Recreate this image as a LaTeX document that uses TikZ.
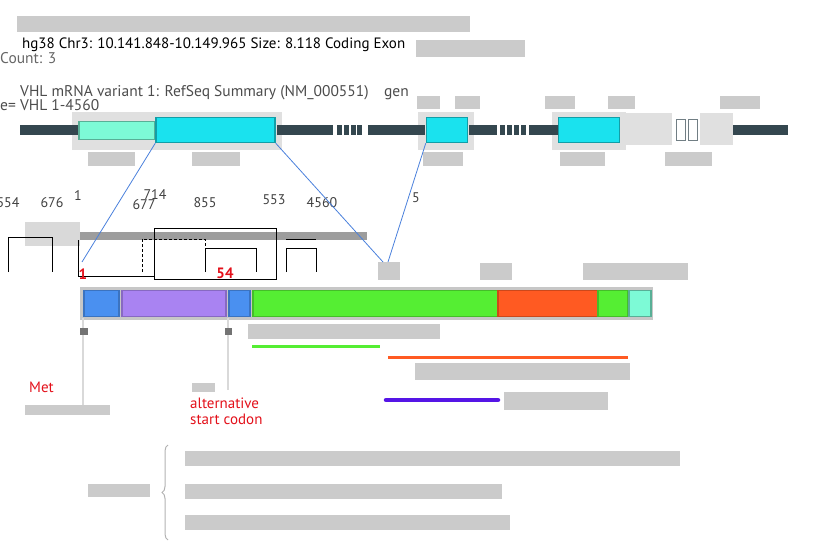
\documentclass[tikz,border=0pt]{standalone}
\usepackage{fontspec}
\setmainfont{PT Sans}
\usetikzlibrary{decorations.pathreplacing,positioning}
\tikzset{decoration={brace,amplitude=6pt}}
\definecolor{trackgrey}{HTML}{34474F}
\definecolor{exoncyan}{HTML}{1AE2EE}
\definecolor{utraqua}{HTML}{7DFAD6}
\definecolor{protblue}{HTML}{4A90F0}
\definecolor{protpurple}{HTML}{A983F2}
\definecolor{protgreen}{HTML}{55EE33}
\definecolor{protorange}{HTML}{FF5A22}
\definecolor{linkblue}{HTML}{4A80DC}
\definecolor{labred}{HTML}{E3101A}
\definecolor{signindigo}{HTML}{5515E6}

\begin{document}
\begin{tikzpicture}[x=1pt,y=-1pt]

\tikzstyle{blur}=[fill=black!45,opacity=0.45]
\tikzstyle{halo}=[fill=black!12]
\tikzstyle{track}=[fill=trackgrey]
\tikzstyle{exon}=[draw=exoncyan!70!black,fill=exoncyan,line width=1.5pt,inner sep=0pt]
\tikzstyle{seg}=[line width=1.5pt,inner sep=0pt,minimum height=26pt,anchor=west]
\tikzstyle{link}=[linkblue,line width=0.8pt]
\tikzstyle{coordlab}=[font=\fontsize{14}{16}\selectfont,text=black!75,inner sep=0pt]
\tikzstyle{headline}=[anchor=west,inner sep=0pt,font=\fontsize{15.5}{17}\selectfont]
\tikzstyle{bra}=[black,line width=0.8pt]
\tikzstyle{redlab}=[font=\fontsize{15}{16}\selectfont,text=labred,inner sep=0pt,align=left]
\tikzstyle{stem}=[black!15,line width=2.5pt]

\useasboundingbox (0,0) rectangle (831,551);

% header lines
\fill[blur] (17,16) rectangle (470,32);
\node[headline,font=\fontsize{15}{17}\selectfont] (head) at (22,45)
  {hg38 Chr3: 10.141.848-10.149.965 Size: 8.118 Coding Exon};
\fill[blur] (416,40) rectangle (525,57);
\node[headline,text=black!60] (count) at (0,58) {Count: 3};
\node[headline,text=black!70] (mrna) at (20,93)
  {VHL mRNA variant 1: RefSeq Summary (NM\_000551)\quad gen};
\node[headline,text=black!70] (range) at (0,105) {e= VHL 1-4560};

% gene track
\fill[halo] (72,112) rectangle (282,150);
\fill[halo] (418,112) rectangle (474,150);
\fill[halo] (552,112) rectangle (626,150);
\fill[halo] (623,113) rectangle (672,145);
\fill[halo] (700,113) rectangle (733,145);
\fill[track] (20,125) rectangle (78,135);
\fill[track] (277,125) rectangle (333,135);
\foreach \x in {337,344,351,357} \fill[track] (\x,125) rectangle +(5,10);
\fill[track] (368,125) rectangle (425,135);
\fill[track] (469,125) rectangle (497,135);
\foreach \x in {500,507,514,521} \fill[track] (\x,125) rectangle +(5,10);
\fill[track] (529,125) rectangle (558,135);
\fill[track] (733,125) rectangle (788,135);
\node[draw=utraqua!70!black,fill=utraqua,line width=1.5pt,inner sep=0pt,
  minimum width=76pt,minimum height=18pt] (utr5) at (117,130.5) {};
\node[exon,minimum width=119pt,minimum height=25pt] (ex1) at (215.5,130) {};
\node[exon,minimum width=41pt,minimum height=25pt] (ex2) at (447,130) {};
\node[exon,minimum width=61pt,minimum height=25pt] (ex3) at (589,130) {};
\node[draw=trackgrey!70,line width=1pt,inner sep=0pt,minimum width=9pt,
  minimum height=21pt] (gap1) at (681,130) {};
\node[draw=trackgrey!70,line width=1pt,inner sep=0pt,minimum width=9pt,
  minimum height=21pt,right=1.5pt of gap1] (gap2) {};
\foreach \a/\b in {417/440,455/480,545/575,608/635,720/760}
  \fill[blur] (\a,96) rectangle (\b,109);
\foreach \a/\b in {88/135,192/240,423/463,560/605,665/712}
  \fill[blur] (\a,152) rectangle (\b,166);

% positions
\node[coordlab] (p554) at (8,203) {554};
\node[coordlab] (p676) at (52,203) {676};
\node[coordlab] (p1) at (78,196) {1};
\node[coordlab] (p677) at (144,205) {677};
\node[coordlab] (p714) at (155,195) {714};
\node[coordlab] (p855) at (205,203) {855};
\node[coordlab] (p553) at (274,200) {553};
\node[coordlab] (p4560) at (322,203) {4560};
\node[coordlab] (p5) at (416,198) {5};

% bracket lines
\fill[black!15] (25,222) rectangle (80,246);
\fill[black!55,opacity=0.7] (80,232) rectangle (367,240);
\draw[bra] (8,272) -- (8,237) -- (52,237) -- (52,272);
\draw[bra] (78,240) -- (78,276) -- (155,276);
\draw[bra,densely dashed] (142,272) -- (142,239) -- (205,239) -- (205,246);
\draw[bra] (154,228) rectangle (276,279);
\draw[bra] (205,272) -- (205,248) -- (256,248) -- (256,272);
\draw[bra] (286,239) -- (316,239);
\draw[bra] (286,272) -- (286,248) -- (316,248) -- (316,272);
\node[redlab,font=\bfseries\fontsize{15}{17}\selectfont] (aa1) at (83,274) {1};
\node[redlab,font=\bfseries\fontsize{15}{17}\selectfont] (aa54) at (225,273) {54};

% exon to protein links
\coordinate (foot1) at (82,262);
\coordinate (foot2) at (383,262);
\coordinate (foot3) at (388,262);
\draw[link] (ex1.south west) -- (foot1);
\draw[link] (ex1.south east) -- (foot2);
\draw[link] (ex2.south west) -- (foot3);
\fill[blur] (378,262) rectangle (400,280);
\fill[blur] (480,263) rectangle (512,280);
\fill[blur] (583,263) rectangle (688,280);

% protein
\fill[black!22] (80,287) rectangle (653,320);
\node[seg,fill=protblue,draw=protblue!80!black,minimum width=35pt] (sig1) at (83,303.5) {};
\node[seg,fill=protpurple,draw=protpurple!80!black,minimum width=104pt] (pur) at (121,303.5) {};
\node[seg,fill=protblue,draw=protblue!80!black,minimum width=21pt] (sig2) at (228,303.5) {};
\node[seg,fill=protgreen,draw=protgreen!80!black,minimum width=245pt] (grn1) at (252,303.5) {};
\node[seg,fill=protorange,draw=protorange!80!black,minimum width=100pt] (org) at (497,303.5) {};
\node[seg,fill=protgreen,draw=protgreen!80!black,minimum width=30pt] (grn2) at (597,303.5) {};
\node[seg,fill=utraqua,draw=utraqua!70!black,minimum width=22pt] (utr3) at (628,303.5) {};

% start codons
\coordinate (metend) at (83,405);
\coordinate (altend) at (228,390);
\draw[stem] (sig1.south west) ++(0,1) -- (metend);
\draw[stem] (sig2.south west) ++(0,1) -- (altend);
\fill[black!55] (80,328) rectangle (88,335);
\fill[black!55] (225,328) rectangle (232,335);
\fill[blur] (192,383) rectangle (215,392);
\fill[blur] (25,405) rectangle (110,415);
\node[redlab,anchor=west] (met) at (29,387) {Met};
\node[redlab,anchor=north west] (alt) at (190,398) {alternative\\start codon};

% domains
\fill[blur] (248,324) rectangle (440,339);
\coordinate (gA) at (252,346);
\coordinate (gB) at (380,346);
\draw[protgreen,line width=3pt] (gA) -- (gB);
\coordinate (oA) at (388,357);
\coordinate (oB) at (628,357);
\draw[protorange,line width=3pt] (oA) -- (oB);
\fill[blur] (415,363) rectangle (630,380);
\coordinate (sA) at (386,400);
\coordinate (sB) at (498,400);
\draw[signindigo,line width=4.5pt,line cap=round] (sA) -- (sB);
\fill[blur] (504,392) rectangle (608,410);

% regions
\coordinate (brB) at (168,540);
\coordinate (brT) at (168,445);
\draw[decorate,black!30,line width=1pt] (brB) -- (brT);
\fill[blur] (88,484) rectangle (150,497);
\fill[blur] (185,451) rectangle (680,466);
\fill[blur] (185,484) rectangle (502,499);
\fill[blur] (185,515) rectangle (510,530);
\end{tikzpicture}
\end{document}
